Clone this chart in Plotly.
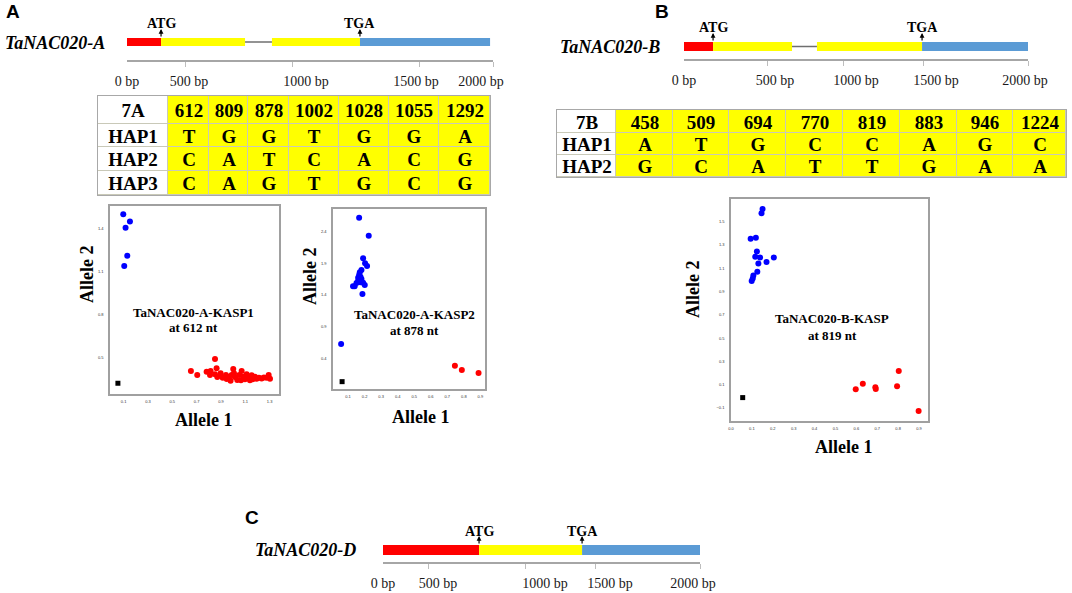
import plotly.graph_objects as go

W, H = 1072, 593
SERIF = "Liberation Serif, Times New Roman, serif"
SANS = "Liberation Sans, Arial, sans-serif"

# ---------------- data ----------------
# gene structures (display bp units along each drawn ruler)
geneA_utr5 = [0, 186]
geneA_exons = [[186, 645], [792, 1273]]
geneA_utr3 = [1273, 1984]
geneA_atg, geneA_tga = 186, 1273
geneA_ticks = [322, 902, 1596, 2000]
geneA_label_pos = [0, 339, 978, 1579, 1934]

geneB_utr5 = [0, 169]
geneB_exons = [[169, 628], [773, 1384]]
geneB_utr3 = [1384, 2000]
geneB_atg, geneB_tga = 169, 1384
geneB_ticks = [488, 930, 1390, 2000]
geneB_label_pos = [0, 529, 1000, 1465, 1983]

geneC_utr5 = [0, 606]
geneC_exons = [[606, 1256]]
geneC_utr3 = [1256, 2000]
geneC_atg, geneC_tga = 606, 1256
geneC_ticks = [290, 896, 1338, 2000]
geneC_label_pos = [0, 347, 1022, 1432, 1956]

bp_labels = ["0 bp", "500 bp", "1000 bp", "1500 bp", "2000 bp"]

# haplotype tables
snpA = ["612", "809", "878", "1002", "1028", "1055", "1292"]
hapA_names = ["HAP1", "HAP2", "HAP3"]
hapA = [["T", "G", "G", "T", "G", "G", "A"],
        ["C", "A", "T", "C", "A", "C", "G"],
        ["C", "A", "G", "T", "G", "C", "G"]]
snpB = ["458", "509", "694", "770", "819", "883", "946", "1224"]
hapB_names = ["HAP1", "HAP2"]
hapB = [["A", "T", "G", "C", "C", "A", "G", "C"],
        ["G", "C", "A", "T", "T", "G", "A", "A"]]

# KASP scatter data
a1_blue_x = [0.097, 0.152, 0.116, 0.130, 0.105]
a1_blue_y = [1.498, 1.447, 1.405, 1.209, 1.137]
a1_red_x = [0.851, 0.653, 0.705, 0.782, 0.810, 0.815, 0.864, 0.851, 0.870, 0.897,
            0.914, 0.941, 0.963, 0.979, 1.001, 1.007, 1.015, 1.034, 1.051, 1.070,
            1.084, 1.097, 1.111, 1.125, 1.138, 1.152, 1.166, 1.179, 1.193, 1.212,
            1.234, 1.253, 1.275, 1.292, 1.303, 1.064, 1.105, 1.160, 0.988, 0.947]
a1_red_y = [0.488, 0.405, 0.377, 0.400, 0.377, 0.405, 0.423, 0.381, 0.363, 0.388,
            0.358, 0.377, 0.363, 0.337, 0.419, 0.388, 0.363, 0.342, 0.377, 0.405,
            0.365, 0.347, 0.381, 0.358, 0.340, 0.374, 0.356, 0.365, 0.351, 0.358,
            0.353, 0.360, 0.358, 0.377, 0.351, 0.340, 0.365, 0.347, 0.377, 0.349]
a1_ntc_x, a1_ntc_y = [0.053], [0.319]

a2_blue_x = [0.167, 0.225, 0.191, 0.203, 0.215, 0.181, 0.171, 0.167, 0.175, 0.161,
             0.181, 0.161, 0.175, 0.191, 0.201, 0.151, 0.130, 0.140, 0.187, 0.058]
a2_blue_y = [2.621, 2.337, 1.979, 1.900, 1.858, 1.795, 1.758, 1.716, 1.689, 1.674,
             1.653, 1.621, 1.600, 1.595, 1.558, 1.589, 1.537, 1.537, 1.416, 0.626]
a2_red_x = [0.746, 0.788, 0.889]
a2_red_y = [0.284, 0.216, 0.168]
a2_ntc_x, a2_ntc_y = [0.064], [0.032]

b_blue_x = [0.151, 0.146, 0.094, 0.119, 0.124, 0.116, 0.139, 0.170, 0.205, 0.131,
            0.126, 0.107, 0.104, 0.099]
b_blue_y = [1.609, 1.572, 1.354, 1.362, 1.245, 1.199, 1.193, 1.153, 1.193, 1.142,
            1.070, 1.038, 1.013, 0.990]
b_red_x = [0.597, 0.631, 0.691, 0.693, 0.795, 0.803, 0.898]
b_red_y = [0.061, 0.109, 0.078, 0.063, 0.086, 0.218, -0.126]
b_ntc_x, b_ntc_y = [0.056], [-0.011]

# ---------------- helpers ----------------
def dx(a, b):
    return [a / W, b / W]

def dy(top, bottom):
    return [1 - bottom / H, 1 - top / H]

def px(x):
    return x / W

def py(y):
    return 1 - y / H

fig = go.Figure()
annotations = []
shapes = []

RED, YELLOW, BLUE = "#ff0000", "#ffff00", "#5b9bd5"

# ---------------- gene tracks ----------------
genes = [
    ("4", geneA_utr5, geneA_exons, geneA_utr3, geneA_atg, geneA_tga, geneA_ticks, geneA_label_pos,
     (127, 493), 60, 42, 8, "TaNAC020-A", (55, 43)),
    ("5", geneB_utr5, geneB_exons, geneB_utr3, geneB_atg, geneB_tga, geneB_ticks, geneB_label_pos,
     (684, 1028), 59, 46.5, 9, "TaNAC020-B", (610, 47)),
    ("6", geneC_utr5, geneC_exons, geneC_utr3, geneC_atg, geneC_tga, geneC_ticks, geneC_label_pos,
     (383, 700), 562, 550, 10, "TaNAC020-D", (305, 550)),
]
for (ax, u5, exons, u3, atg, tga, ticks, lpos, xr, line_y, bar_y, bar_h, name, name_xy) in genes:
    starts = [u5[0]] + [e[0] for e in exons] + [u3[0]]
    ends = [u5[1]] + [e[1] for e in exons] + [u3[1]]
    colors = [RED] + [YELLOW] * len(exons) + [BLUE]
    yc = line_y - bar_y
    fig.add_trace(go.Bar(
        x=[e - s for s, e in zip(starts, ends)], base=starts, y=[yc] * len(starts),
        orientation="h", width=[bar_h] * len(starts), marker=dict(color=colors, line_width=0),
        xaxis="x" + ax, yaxis="y" + ax, showlegend=False, hoverinfo="skip"))
    for i in range(len(exons) - 1):
        fig.add_trace(go.Scatter(
            x=[exons[i][1], exons[i + 1][0]], y=[yc, yc], mode="lines",
            line=dict(color="#6f6f6f", width=1.5), xaxis="x" + ax, yaxis="y" + ax,
            showlegend=False, hoverinfo="skip"))
    fig.update_layout(**{
        "xaxis" + ax: dict(domain=dx(*xr), range=[0, 2000], anchor="y" + ax,
                           showgrid=False, zeroline=False, showline=True,
                           linecolor="#a6a6a6", linewidth=1.5, automargin=False,
                           tickvals=lpos, ticktext=bp_labels, ticks="",
                           ticklabelstandoff=7,
                           tickfont=dict(family=SERIF, size=14, color="#1a1a1a"),
                           minor=dict(tickvals=ticks, ticks="outside", ticklen=5,
                                      tickcolor="#bdbdbd", tickwidth=1, showgrid=False)),
        "yaxis" + ax: dict(domain=dy(line_y - 30, line_y), range=[0, 30], anchor="x" + ax,
                           visible=False, fixedrange=True, automargin=False),
    })
    top_bar = bar_y - bar_h / 2
    for pos, txt in ((atg, "ATG"), (tga, "TGA")):
        annotations.append(dict(xref="x" + ax, yref="paper", x=pos, y=py(top_bar - 9),
                                ax=0, ay=9, axref="pixel", ayref="pixel", text="",
                                showarrow=True, arrowhead=2, arrowsize=0.8, arrowwidth=1.2,
                                arrowcolor="#000"))
        annotations.append(dict(xref="x" + ax, yref="paper", x=pos, y=py(top_bar - 14),
                                text="<b>%s</b>" % txt, showarrow=False, xanchor="center",
                                yanchor="middle", font=dict(family=SERIF, size=14, color="#000")))
    annotations.append(dict(xref="paper", yref="paper", x=px(name_xy[0]), y=py(name_xy[1]),
                            text="<b><i>%s</i></b>" % name, showarrow=False, xanchor="center",
                            yanchor="middle", font=dict(family=SERIF, size=18, color="#000")))

# ---------------- tables (drawn as a heatmap grid) ----------------
def add_table(ax, label, snps, names, haps, xr, yr, colw, rowh):
    xe = [0]
    for w in colw:
        xe.append(xe[-1] + w)
    ye = [0]
    for h in rowh:
        ye.append(ye[-1] + h)
    text = [[label] + snps] + [[n] + h for n, h in zip(names, haps)]
    z = [[0] + [1] * len(snps) for _ in text]
    fig.add_trace(go.Heatmap(
        x=xe, y=ye, z=z, text=text, texttemplate="%{text}",
        textfont=dict(family=SERIF, size=19, color="#000", weight="bold"),
        colorscale=[[0, "#ffffff"], [1, YELLOW]], zmin=0, zmax=1, showscale=False,
        xgap=1, ygap=1, hoverinfo="skip", xaxis="x" + ax, yaxis="y" + ax))
    shapes.append(dict(type="rect", xref="x" + ax, yref="y" + ax, x0=0, x1=xe[-1],
                       y0=0, y1=ye[-1], fillcolor="#c9c9b8", line_width=0, layer="below"))
    fig.update_layout(**{
        "xaxis" + ax: dict(domain=dx(*xr), range=[0, xe[-1]], anchor="y" + ax,
                           showgrid=False, zeroline=False, showticklabels=False, ticks="",
                           showline=True, mirror=True, linecolor="#a8a8a8", linewidth=1,
                           automargin=False),
        "yaxis" + ax: dict(domain=dy(*yr), range=[ye[-1], 0], anchor="x" + ax,
                           showgrid=False, zeroline=False, showticklabels=False, ticks="",
                           showline=True, mirror=True, linecolor="#a8a8a8", linewidth=1,
                           automargin=False),
    })

add_table("7", "7A", snpA, hapA_names, hapA, (98, 490), (96, 195),
          [70, 41, 39, 41, 50, 50, 50, 51], [28, 23, 24, 24])
add_table("8", "7B", snpB, hapB_names, hapB, (557, 1066), (110, 177),
          [59, 57, 56, 57, 57, 57, 57, 56, 53], [23, 22, 22])

# ---------------- KASP scatter plots ----------------
scatters = [
    ("", a1_blue_x, a1_blue_y, a1_red_x, a1_red_y, a1_ntc_x, a1_ntc_y,
     (110, 279), (206, 394), [-0.012, 1.377], [0.244, 1.556],
     [0.1, 0.3, 0.5, 0.7, 0.9, 1.1, 1.3], [0.5, 0.8, 1.1, 1.4],
     ["TaNAC020-A-KASP1", "at 612 nt"], (193, 312, 327), (87, 275), (203, 420)),
    ("2", a2_blue_x, a2_blue_y, a2_red_x, a2_red_y, a2_ntc_x, a2_ntc_y,
     (333, 485), (209, 389), [0.009, 0.928], [-0.084, 2.758],
     [0.1, 0.2, 0.3, 0.4, 0.5, 0.6, 0.7, 0.8, 0.9], [0.4, 0.9, 1.4, 1.9, 2.4],
     ["TaNAC020-A-KASP2", "at 878 nt"], (414, 314, 330), (310, 277), (420, 417)),
    ("3", b_blue_x, b_blue_y, b_red_x, b_red_y, b_ntc_x, b_ntc_y,
     (731, 928), (199, 421), [0.0, 0.943], [-0.212, 1.695],
     [0.0, 0.1, 0.2, 0.3, 0.4, 0.5, 0.6, 0.7, 0.8, 0.9],
     [-0.1, 0.1, 0.3, 0.5, 0.7, 0.9, 1.1, 1.3, 1.5],
     ["TaNAC020-B-KASP", "at 819 nt"], (832, 318, 335), (693, 290), (843, 447)),
]
for (ax, bx, by, rx, ry, nx, ny, xr, yr, xrange_, yrange_, xt, yt, title, tpos, a2pos, a1pos) in scatters:
    xa, ya = "x" + ax, "y" + ax
    fig.add_trace(go.Scatter(x=bx, y=by, mode="markers", xaxis=xa, yaxis=ya,
                             marker=dict(color="#0000ff", size=6), showlegend=False))
    fig.add_trace(go.Scatter(x=rx, y=ry, mode="markers", xaxis=xa, yaxis=ya,
                             marker=dict(color="#ff0000", size=6), showlegend=False))
    fig.add_trace(go.Scatter(x=nx, y=ny, mode="markers", xaxis=xa, yaxis=ya,
                             marker=dict(color="#000000", size=5, symbol="square"),
                             showlegend=False))
    fig.update_layout(**{
        "xaxis" + ax: dict(domain=dx(*xr), range=xrange_, anchor=ya, showgrid=False,
                           zeroline=False, showline=True, mirror=True, linecolor="#a0a0a0",
                           linewidth=1.5, tickvals=xt, ticks="", ticklabelstandoff=2,
                           automargin=False,
                           tickformat=".1f", tickfont=dict(family=SANS, size=4, color="#333")),
        "yaxis" + ax: dict(domain=dy(*yr), range=yrange_, anchor=xa, showgrid=False,
                           zeroline=False, showline=True, mirror=True, linecolor="#a0a0a0",
                           linewidth=1.5, tickvals=yt, ticks="", ticklabelstandoff=4,
                           automargin=False,
                           tickformat=".1f", tickfont=dict(family=SANS, size=4, color="#333")),
    })
    annotations.append(dict(xref="paper", yref="paper", x=px(tpos[0]), y=py(tpos[1]),
                            text="<b>%s</b>" % title[0], showarrow=False, xanchor="center",
                            yanchor="middle", font=dict(family=SERIF, size=13, color="#000")))
    annotations.append(dict(xref="paper", yref="paper", x=px(tpos[0]), y=py(tpos[2]),
                            text="<b>%s</b>" % title[1], showarrow=False, xanchor="center",
                            yanchor="middle", font=dict(family=SERIF, size=13, color="#000")))
    annotations.append(dict(xref="paper", yref="paper", x=px(a2pos[0]), y=py(a2pos[1]),
                            text="<b>Allele 2</b>", textangle=-90, showarrow=False,
                            xanchor="center", yanchor="middle",
                            font=dict(family=SERIF, size=18, color="#000")))
    annotations.append(dict(xref="paper", yref="paper", x=px(a1pos[0]), y=py(a1pos[1]),
                            text="<b>Allele 1</b>", showarrow=False, xanchor="center",
                            yanchor="middle", font=dict(family=SERIF, size=18, color="#000")))

# ---------------- panel letters ----------------
for letter, (lx, ly) in (("A", (13, 12)), ("B", (662, 12)), ("C", (252, 517))):
    annotations.append(dict(xref="paper", yref="paper", x=px(lx), y=py(ly),
                            text="<b>%s</b>" % letter, showarrow=False, xanchor="center",
                            yanchor="middle", font=dict(family=SANS, size=19, color="#000")))

fig.update_layout(width=W, height=H,
                  margin=dict(l=0, r=0, t=0, b=0, pad=0, autoexpand=False),
                  paper_bgcolor="#ffffff", plot_bgcolor="#ffffff", barmode="overlay",
                  annotations=annotations, shapes=shapes, showlegend=False)

fig.write_html("out.html", config={"displayModeBar": False},
               post_script="document.body.style.margin='0';")
